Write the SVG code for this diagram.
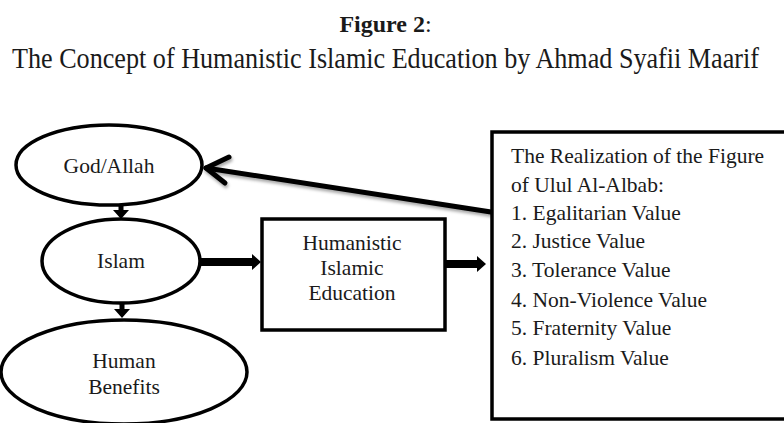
<svg xmlns="http://www.w3.org/2000/svg" width="784" height="423" viewBox="0 0 784 423">
<style>
.node{fill:#fff;stroke:#000;stroke-width:3.5}
.blk{fill:#000}
</style>
<defs>
<filter id="sh" x="-10%" y="-50%" width="120%" height="200%">
<feDropShadow dx="1" dy="2.5" stdDeviation="1.5" flood-color="#000" flood-opacity="0.35"/>
</filter>
</defs>
<rect width="784" height="423" fill="#fff"/>
<g id="title" font-family="'Liberation Serif','Times New Roman',serif" fill="#1a1a1a">
<text x="385.5" y="32" font-size="24" text-anchor="middle"><tspan font-weight="bold">Figure 2</tspan>:</text>
<text x="12" y="59.13" font-size="26" transform="scale(1,1.15)" textLength="747" lengthAdjust="spacingAndGlyphs">The Concept of Humanistic Islamic Education by Ahmad Syafii Maarif</text>
</g>
<g id="connectors">
<polygon class="blk" points="118.5,205 123.5,205 123.5,210 129,210 121,219 113,210 118.5,210"/>
<polygon class="blk" points="119.5,303 124.5,303 124.5,309 130,309 122,318 114,309 119.5,309"/>
<polygon class="blk" points="200,258 252,258 252,254 261,262 252,270 252,266 200,266"/>
<polygon class="blk" points="445,260 477,260 477,256 486,264 477,272 477,268 445,268"/>
<g filter="url(#sh)" stroke="#000" stroke-width="5" stroke-linecap="round" stroke-linejoin="round" fill="none">
<line x1="491" y1="212" x2="206" y2="168"/>
<polyline points="229,157 206,168 225,183"/>
</g>
</g>
<g id="god">
<ellipse class="node" cx="109" cy="165" rx="93" ry="40"/>
<text x="109" y="173" font-family="'Liberation Serif','Times New Roman',serif" font-size="21.5" text-anchor="middle" fill="#1a1a1a">God/Allah</text>
</g>
<g id="islam">
<ellipse class="node" cx="121" cy="261" rx="79" ry="42"/>
<text x="121" y="268" font-family="'Liberation Serif','Times New Roman',serif" font-size="21.5" text-anchor="middle" fill="#1a1a1a">Islam</text>
</g>
<g id="benefits" font-family="'Liberation Serif','Times New Roman',serif" font-size="21.5" text-anchor="middle" fill="#1a1a1a">
<ellipse class="node" cx="124" cy="372" rx="123" ry="52"/>
<text x="124" y="368">Human</text>
<text x="124" y="394">Benefits</text>
</g>
<g id="hie" font-family="'Liberation Serif','Times New Roman',serif" font-size="21.5" text-anchor="middle" fill="#1a1a1a">
<rect class="node" x="262" y="219" width="183" height="111"/>
<text x="352" y="250">Humanistic</text>
<text x="352" y="275">Islamic</text>
<text x="352" y="300">Education</text>
</g>
<g id="ulul" font-family="'Liberation Serif','Times New Roman',serif" font-size="21.5" fill="#1a1a1a">
<rect class="node" x="492" y="132" width="310" height="287"/>
<text x="511" y="163">The Realization of the Figure</text>
<text x="511" y="192">of Ulul Al-Albab:</text>
<text x="511" y="220">1. Egalitarian Value</text>
<text x="511" y="248">2. Justice Value</text>
<text x="511" y="277">3. Tolerance Value</text>
<text x="511" y="307">4. Non-Violence Value</text>
<text x="511" y="335">5. Fraternity Value</text>
<text x="511" y="365">6. Pluralism Value</text>
</g>
</svg>
